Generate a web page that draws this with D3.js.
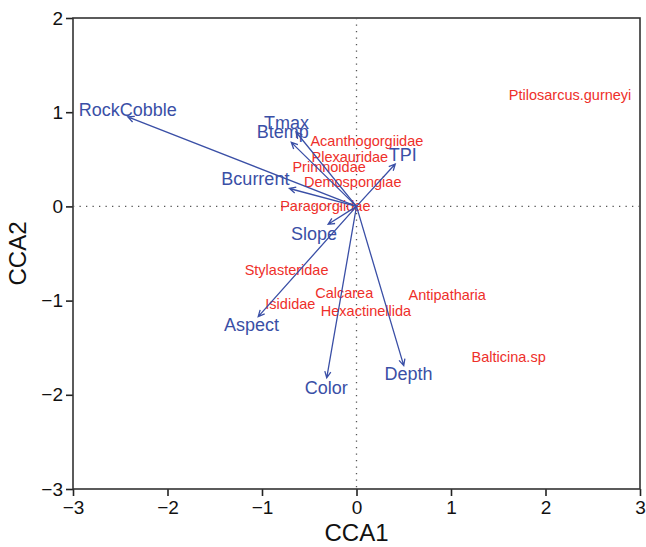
<!DOCTYPE html>
<meta charset="UTF-8">
<style>
  body { margin: 0; background: #fff; }
  svg text { font-family: "Liberation Sans", Arial, Helvetica, sans-serif; }
</style>
<body>
<script src="https://cdn.jsdelivr.net/npm/d3@7/dist/d3.min.js"></script>
<script>
// environmental variables (biplot arrows)
var envNames = ["RockCobble", "Tmax", "Btemp", "TPI", "Bcurrent", "Slope", "Aspect", "Color", "Depth"];
var envX = [-2.42, -0.64, -0.69, 0.41, -0.71, -0.30, -1.04, -0.315, 0.50];
var envY = [0.95, 0.79, 0.68, 0.45, 0.19, -0.19, -1.17, -1.82, -1.69];
// where the arrow labels sit
var envLabX = [-2.42, -0.74, -0.78, 0.49, -1.07, -0.45, -1.11, -0.32, 0.55];
var envLabY = [1.03, 0.89, 0.79, 0.55, 0.29, -0.29, -1.26, -1.92, -1.78];

// species scores
var sppNames = ["Ptilosarcus.gurneyi", "Acanthogorgiidae", "Plexauridae", "Primnoidae", "Demospongiae",
  "Paragorgiidae", "Stylasteridae", "Calcarea", "Antipatharia", "Isididae", "Hexactinellida", "Balticina.sp"];
var sppX = [2.26, 0.11, -0.07, -0.29, -0.04, -0.33, -0.74, -0.13, 0.96, -0.70, 0.10, 1.61];
var sppY = [1.18, 0.69, 0.52, 0.42, 0.26, 0.0, -0.67, -0.92, -0.94, -1.04, -1.11, -1.60];

var xTicks = [-3, -2, -1, 0, 1, 2, 3];
var yTicks = [-3, -2, -1, 0, 1, 2];

var margin = {top: 18, right: 6, bottom: 58, left: 73},
  width = 646 - margin.left - margin.right,
  height = 547 - margin.top - margin.bottom;

var blue = "#3a4fa6", red = "#ee2f2a";

var svg = d3.select("body").append("svg")
  .attr("width", 646)
  .attr("height", 547)
  .append("g")
  .attr("transform", "translate(" + margin.left + "," + margin.top + ")");

var x = d3.scaleLinear().domain([-3, 3]).range([0, width]);
var y = d3.scaleLinear().domain([-3, 2]).range([height, 0]);

var fmt = function(d) { return d < 0 ? "\u2212" + Math.abs(d) : d; };

// axes
var xAxis = svg.append("g")
  .attr("transform", "translate(0," + height + ")")
  .call(d3.axisBottom(x).tickValues(xTicks).tickFormat(fmt).tickSize(7).tickPadding(5));
var yAxis = svg.append("g")
  .call(d3.axisLeft(y).tickValues(yTicks).tickFormat(fmt).tickSize(7).tickPadding(3));
[xAxis, yAxis].forEach(function(a) {
  a.select(".domain").remove();
  a.selectAll("line").attr("stroke", "#222").attr("stroke-width", 1.6);
  a.selectAll("text").attr("fill", "#111").style("font-size", "19px");
});

// box
svg.append("rect")
  .attr("width", width).attr("height", height)
  .attr("fill", "none").attr("stroke", "#333").attr("stroke-width", 1.6);

// dotted zero lines
svg.append("line")
  .attr("x1", 0).attr("x2", width).attr("y1", y(0)).attr("y2", y(0))
  .attr("stroke", "#555").attr("stroke-width", 1.3).attr("stroke-dasharray", "1.3,5.2");
svg.append("line")
  .attr("y1", 0).attr("y2", height).attr("x1", x(0)).attr("x2", x(0))
  .attr("stroke", "#555").attr("stroke-width", 1.3).attr("stroke-dasharray", "1.3,5.2");

// species labels
svg.selectAll("text.spp")
  .data(sppNames)
  .enter().append("text")
  .attr("class", "spp")
  .attr("x", function(d, i) { return x(sppX[i]); })
  .attr("y", function(d, i) { return y(sppY[i]); })
  .attr("dy", "0.35em")
  .attr("text-anchor", "middle")
  .attr("fill", red)
  .style("font-size", "14.5px")
  .text(function(d) { return d; });

// arrows
var head = 7, ang = Math.PI / 7;
envNames.forEach(function(n, i) {
  var x0 = x(0), y0 = y(0), x1 = x(envX[i]), y1 = y(envY[i]);
  var a = Math.atan2(y1 - y0, x1 - x0);
  var p = "M" + x0 + "," + y0 + "L" + x1 + "," + y1 +
    "M" + (x1 - head * Math.cos(a - ang)) + "," + (y1 - head * Math.sin(a - ang)) +
    "L" + x1 + "," + y1 +
    "L" + (x1 - head * Math.cos(a + ang)) + "," + (y1 - head * Math.sin(a + ang));
  svg.append("path").attr("d", p)
    .attr("fill", "none").attr("stroke", blue).attr("stroke-width", 1.3);
});

svg.selectAll("text.env")
  .data(envNames)
  .enter().append("text")
  .attr("class", "env")
  .attr("x", function(d, i) { return x(envLabX[i]); })
  .attr("y", function(d, i) { return y(envLabY[i]); })
  .attr("dy", "0.35em")
  .attr("text-anchor", "middle")
  .attr("fill", blue)
  .style("font-size", "18px")
  .text(function(d) { return d; });

// axis titles
svg.append("text")
  .attr("x", width / 2).attr("y", height + 52)
  .attr("text-anchor", "middle")
  .style("font-size", "24px").attr("fill", "#111")
  .text("CCA1");
svg.append("text")
  .attr("transform", "translate(" + (-47) + "," + (height / 2) + ") rotate(-90)")
  .attr("text-anchor", "middle")
  .style("font-size", "24px").attr("fill", "#111")
  .text("CCA2");
</script>
</body>
